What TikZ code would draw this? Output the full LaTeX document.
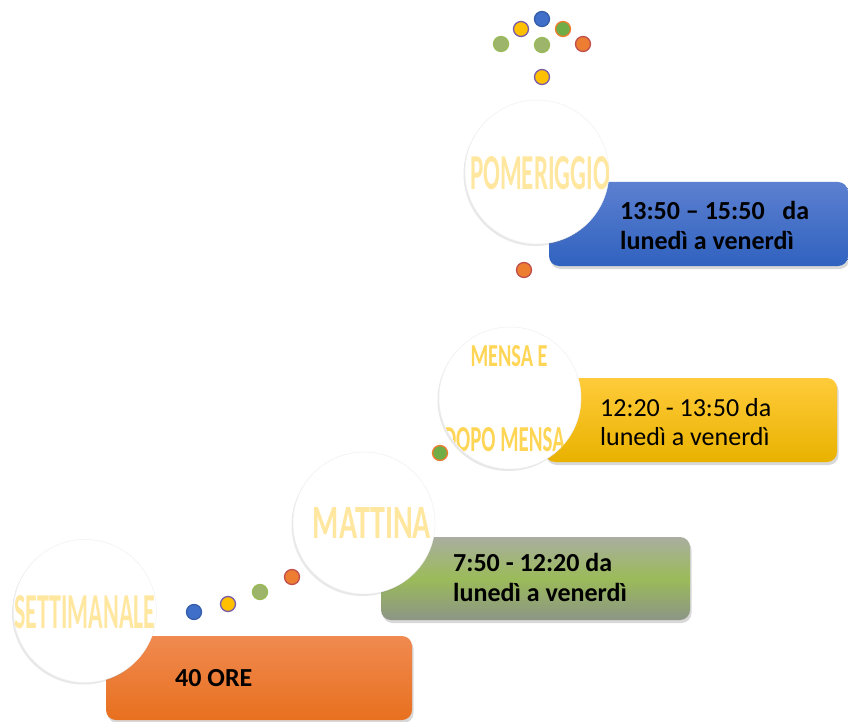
\documentclass[tikz,border=0pt]{standalone}
\usepackage{fontspec}
\setmainfont{Carlito}
\usetikzlibrary{shadows}
\definecolor{orA}{HTML}{F08A50}
\definecolor{orB}{HTML}{E8701F}
\definecolor{grA}{HTML}{A9AEA0}
\definecolor{grM}{HTML}{9BBB59}
\definecolor{grB}{HTML}{8C9586}
\definecolor{yeA}{HTML}{FFCB3A}
\definecolor{yeB}{HTML}{E9B200}
\definecolor{blA}{HTML}{5C80D0}
\definecolor{blB}{HTML}{3062BF}
\definecolor{ctx}{HTML}{FFE7A0}
\definecolor{ctxd}{HTML}{FFD555}
\definecolor{dBlue}{HTML}{3F6FC8}
\definecolor{dYel}{HTML}{FFC000}
\definecolor{dPur}{HTML}{7A5CA8}
\definecolor{dGrn}{HTML}{9DB56B}
\definecolor{dGrnB}{HTML}{9BBB59}
\definecolor{dOr}{HTML}{ED7D31}
\definecolor{dRed}{HTML}{C0504D}
\definecolor{dLeaf}{HTML}{70AD47}
\tikzset{
  timebox/.style={rounded corners=10pt, drop shadow={opacity=0.3, shadow xshift=1.5pt, shadow yshift=-3pt}},
  bubble/.style={circle, fill=white, draw=black!6, line width=0.5pt, minimum size=#1, inner sep=0pt,
    drop shadow={opacity=0.18, shadow xshift=-1.5pt, shadow yshift=-2pt}},
  ctext/.style={inner sep=0pt, text=ctx, font=\bfseries},
  btext/.style={inner sep=0pt, anchor=west, align=left, font=\fontsize{26}{30}\selectfont\bfseries},
  dot/.style={circle, inner sep=0pt, minimum size=15pt, line width=1.3pt, fill=#1},
}
\begin{document}
\begin{tikzpicture}[x=1pt,y=-1pt]
\useasboundingbox[fill=white] (0,0) rectangle (848,722);

% boxes
\shade[timebox, top color=orA, bottom color=orB] (106,636) rectangle (412,720);
\shade[timebox, top color=grA, bottom color=grB, middle color=grM] (381,537) rectangle (690,620);
\shade[timebox, top color=yeA, bottom color=yeB] (545,378) rectangle (837,462);
\shade[timebox, top color=blA, bottom color=blB] (549,182) rectangle (848,266);

% dots behind
\node[dot=dOr, draw=dRed] (d6) at (524,270) {};

% box texts
\node[btext] (l1) at (175,678) {40 ORE};
\node[btext] (l2) at (453,577) {7:50 - 12:20 da\\lunedì a venerdì};
\node[btext, font=\fontsize{26}{29}\selectfont] (l3) at (600,422) {12:20 - 13:50 da\\lunedì a venerdì};
\node[btext] (l4) at (620,225) {13:50 – 15:50\ \ \ da\\lunedì a venerdì};

% bubbles
\node[bubble=143pt] (c1) at (85,611) {};
\node[bubble=142pt] (c2) at (364,523) {};
\node[bubble=142pt] (c3) at (510,398) {};
\node[bubble=144pt] (c4) at (537,172) {};

% bubble texts
\node[ctext] (t1) at (85,612) {\resizebox{141pt}{33pt}{SETTIMANALE}};
\node[ctext] (t2) at (372,523) {\resizebox{118pt}{31pt}{MATTINA}};
\begin{scope}
  \clip (c3.center) circle[radius=70.5pt];
  \node[ctext, text=ctxd] (t3) at (509,356) {\resizebox{77pt}{21pt}{MENSA E}};
  \node[ctext, text=ctxd] (t4) at (504,440) {\resizebox{122pt}{24pt}{DOPO MENSA}};
\end{scope}
\begin{scope}
  \clip (c4.center) circle[radius=71.5pt];
  \node[ctext] (t5) at (540,173) {\resizebox{140pt}{33pt}{POMERIGGIO}};
\end{scope}

% dots
\node[dot=dBlue, draw=dBlue!85!black] (d1) at (194,612) {};
\node[dot=dYel, draw=dPur] (d2) at (228,604) {};
\node[dot=dGrn, draw=dGrnB] (d3) at (260,592) {};
\node[dot=dOr, draw=dRed] (d4) at (292,577) {};
\node[dot=dLeaf, draw=dOr] (d5) at (440,453) {};

\node[dot=dBlue, draw=dBlue!85!black] (e1) at (542,19) {};
\node[dot=dYel, draw=dPur] (e2) at (521,29) {};
\node[dot=dLeaf, draw=dOr] (e3) at (563,29) {};
\node[dot=dGrn, draw=dGrnB] (e4) at (501,44) {};
\node[dot=dGrn, draw=dGrnB] (e5) at (542,45) {};
\node[dot=dOr, draw=dRed] (e6) at (583,44) {};
\node[dot=dYel, draw=dPur] (e7) at (542,77) {};
\end{tikzpicture}
\end{document}
